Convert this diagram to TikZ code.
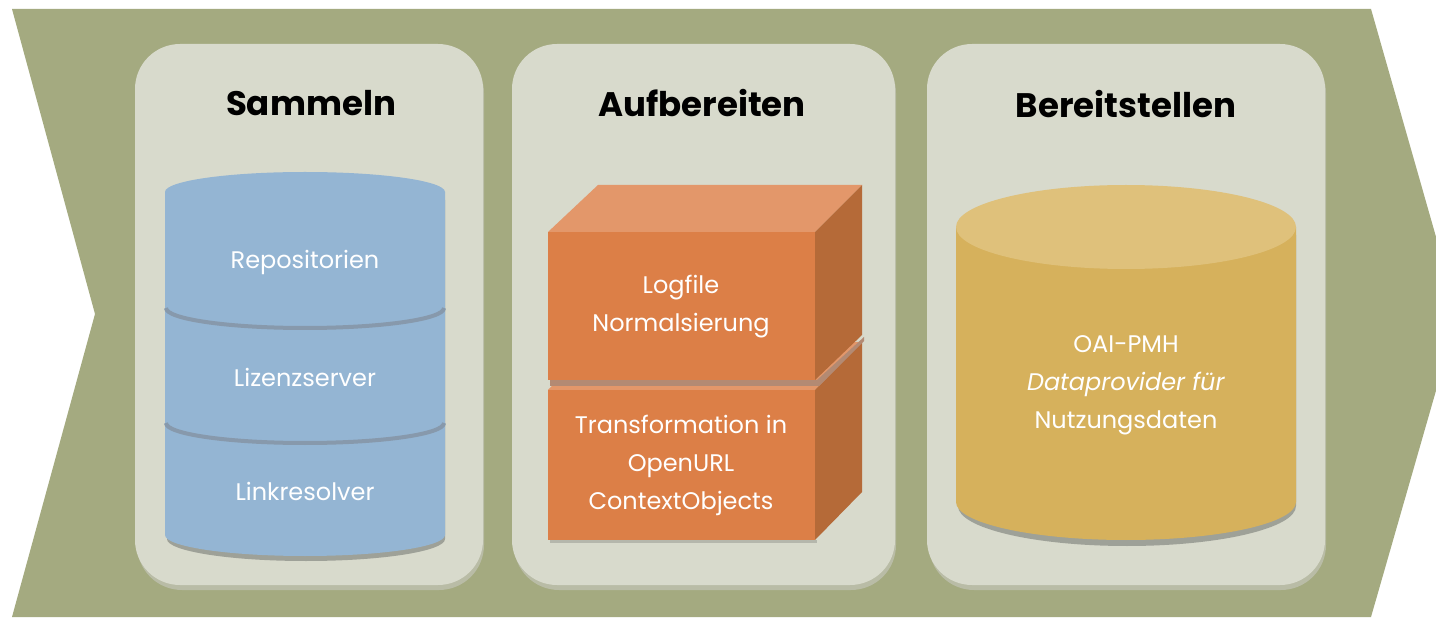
\documentclass[tikz,border=0pt]{standalone}
\usepackage{fontspec}
\setmainfont{Poppins}
\definecolor{olive}{HTML}{A4AA80}
\definecolor{panel}{HTML}{D8DACC}
\definecolor{panelshadow}{HTML}{B9BCA6}
\definecolor{cylblue}{HTML}{94B5D3}
\definecolor{sepblue}{HTML}{8799AC}
\definecolor{cylshadow}{HTML}{9EA198}
\definecolor{boxfront}{HTML}{DC7F47}
\definecolor{boxtop}{HTML}{E3976A}
\definecolor{boxside}{HTML}{B56A38}
\definecolor{boxgap}{HTML}{B38A73}
\definecolor{cylgold}{HTML}{D6B15C}
\definecolor{cylgoldtop}{HTML}{DFC17B}
\tikzset{
  panelbox/.style={fill=panel, rounded corners=45pt},
  paneltitle/.style={font=\fontsize{34}{40}\selectfont\bfseries, text=black},
  celltext/.style={font=\fontsize{24}{38}\selectfont, text=white, align=center},
}
\begin{document}
\begin{tikzpicture}[x=1pt,y=-1pt]
\clip (0,0) rectangle (1436,620);
\fill[white] (0,0) rectangle (1436,620);
% chevron background
\fill[olive] (12,9) -- (1371,9) -- (1458,314) -- (1371,617) -- (12,617) -- (95,314) -- cycle;
% panels
\foreach \a/\b in {135/483, 512/895, 927/1325}{
  \fill[panelshadow, rounded corners=45pt] (\a+2,48) rectangle (\b+1,590);
  \fill[panelbox] (\a,44) rectangle (\b,585);
}
\node[paneltitle] (t1) at (311,103) {Sammeln};
\node[paneltitle] (t2) at (702,103) {Aufbereiten};
\node[paneltitle] (t3) at (1126,104) {Bereitstellen};
% blue cylinder
\fill[cylshadow] (167,200) -- (167,539) arc[start angle=180, end angle=0, x radius=139, y radius=22] -- (445,200) -- cycle;
\fill[cylblue] (165,192) -- (165,535) arc[start angle=180, end angle=0, x radius=140, y radius=21] -- (445,192) -- cycle;
\fill[cylblue] (305,192) ellipse[x radius=140, y radius=20];
\draw[sepblue, line width=4pt] (166,308) arc[start angle=180, end angle=0, x radius=139, y radius=20];
\draw[sepblue, line width=4pt] (166,423) arc[start angle=180, end angle=0, x radius=139, y radius=20];
\node[celltext] (c1) at (305,262) {Repositorien};
\node[celltext] (c2) at (305,377) {Lizenzserver};
\node[celltext] (c3) at (305,491) {Linkresolver};
% orange boxes: lower box
\fill[boxtop] (548,390) -- (595,342) -- (862,342) -- (815,390) -- cycle;
\fill[boxside] (815,390) -- (862,342) -- (862,492) -- (815,540) -- cycle;
\fill[boxfront] (548,390) rectangle (815,540);
\fill[cylshadow, opacity=0.6] (550,540) rectangle (817,543);
% upper box
\fill[boxgap] (550,380) -- (817,380) -- (864,337) -- (864,341) -- (819,386) -- (550,386) -- cycle;
\fill[boxtop] (548,232) -- (598,185) -- (862,185) -- (815,232) -- cycle;
\fill[boxside] (815,232) -- (862,185) -- (862,335) -- (815,380) -- cycle;
\fill[boxfront] (548,232) rectangle (815,380);
\node[celltext] (b1) at (681,307) {Logfile\\Normalsierung};
\node[celltext] (b2) at (681,465) {Transformation in\\OpenURL\\ContextObjects};
% gold cylinder
\fill[cylshadow] (958,235) -- (958,506) arc[start angle=180, end angle=0, x radius=169, y radius=40] -- (1296,235) -- cycle;
\fill[cylgold] (956,227) -- (956,502) arc[start angle=180, end angle=0, x radius=170, y radius=38] -- (1296,227) -- cycle;
\fill[cylgoldtop] (1126,227) ellipse[x radius=170, y radius=42];
\node[celltext] (d1) at (1126,385) {OAI-PMH\\\textit{Dataprovider für}\\Nutzungsdaten};
\end{tikzpicture}
\end{document}
